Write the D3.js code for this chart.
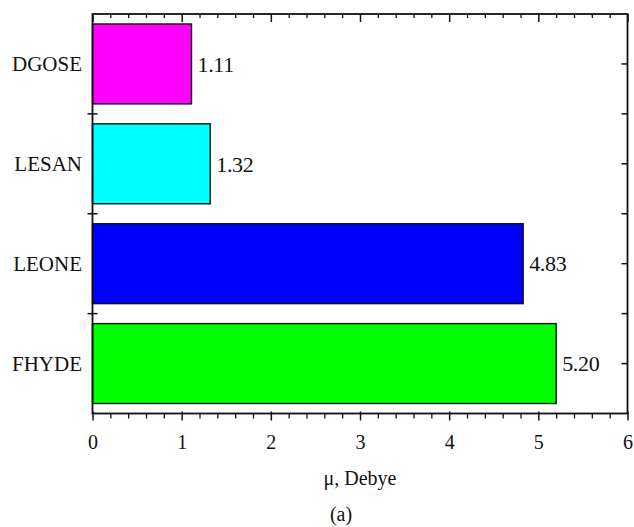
<!DOCTYPE html>
<html>
<head>
<meta charset="utf-8">
<script src="https://cdn.jsdelivr.net/npm/d3@7"></script>
<style>
  html, body { margin: 0; padding: 0; background: #fff; }
  svg { display: block; }
  text { font-family: "Liberation Serif", "Times New Roman", serif; fill: #111; }
</style>
</head>
<body>
<svg id="chart" width="634" height="527"></svg>
<script>
// Dipole moments per compound, listed top to bottom
const compounds = ["DGOSE", "LESAN", "LEONE", "FHYDE"];
const dipoles = [1.11, 1.32, 4.83, 5.20];
const barColors = ["#ff00ff", "#00ffff", "#0000ff", "#00ff00"];
const xTicks = [0, 1, 2, 3, 4, 5, 6];
const xTitle = "\u03bc, Debye";
const panelLabel = "(a)";

const svg = d3.select("#chart");
const plotLeft = 92.5, plotRight = 627.5, plotTop = 14, plotBottom = 413.5;

const x = d3.scaleLinear().domain([0, 6]).range([plotLeft, plotRight]);
const y = d3.scaleBand().domain(compounds).range([plotTop, plotBottom])
  .paddingInner(0.2).paddingOuter(0.1);

const rows = compounds.map((c, i) => ({ name: c, value: dipoles[i], color: barColors[i] }));

// Bars
svg.append("g").selectAll("rect").data(rows).join("rect")
  .attr("x", x(0))
  .attr("y", d => y(d.name))
  .attr("width", d => x(d.value) - x(0))
  .attr("height", y.bandwidth())
  .attr("fill", d => d.color)
  .attr("stroke", "#111")
  .attr("stroke-width", 1.4);

// Value labels beside each bar
svg.append("g").selectAll("text").data(rows).join("text")
  .attr("x", d => x(d.value) + 6)
  .attr("y", d => y(d.name) + y.bandwidth() / 2)
  .attr("dy", "0.35em")
  .attr("font-size", 22)
  .attr("letter-spacing", -0.3)
  .text(d => d.value.toFixed(2));

// Category labels
svg.append("g").selectAll("text").data(rows).join("text")
  .attr("x", 82)
  .attr("y", d => y(d.name) + y.bandwidth() / 2)
  .attr("dy", "0.35em")
  .attr("text-anchor", "end")
  .attr("font-size", 21)
  .text(d => d.name);

const minor = d3.range(0, 6.001, 0.2).filter(v => Math.abs(v - Math.round(v)) > 1e-6);

// Bottom axis: major ticks crossing the line, minor ticks below
const bottomAxis = svg.append("g").attr("transform", `translate(0,${plotBottom})`)
  .call(d3.axisBottom(x).tickValues(xTicks).tickFormat(d3.format("d"))
    .tickSizeInner(7).tickSizeOuter(0).tickPadding(14));
bottomAxis.select(".domain").remove();
bottomAxis.selectAll(".tick line").attr("y1", -2).attr("stroke", "#111").attr("stroke-width", 1.5);
bottomAxis.selectAll(".tick text").attr("font-size", 20).attr("fill", "#111");
svg.append("g").attr("transform", `translate(0,${plotBottom})`)
  .call(d3.axisBottom(x).tickValues(minor).tickFormat("").tickSizeInner(5).tickSizeOuter(0))
  .call(g => g.select(".domain").remove())
  .selectAll(".tick line").attr("stroke", "#111").attr("stroke-width", 1.3);

// Top axis: ticks pointing inward
svg.append("g").attr("transform", `translate(0,${plotTop})`)
  .call(d3.axisBottom(x).tickValues(xTicks).tickFormat("").tickSizeInner(8).tickSizeOuter(0))
  .call(g => g.select(".domain").remove())
  .selectAll(".tick line").attr("stroke", "#111").attr("stroke-width", 1.5);
svg.append("g").attr("transform", `translate(0,${plotTop})`)
  .call(d3.axisBottom(x).tickValues(minor).tickFormat("").tickSizeInner(4).tickSizeOuter(0))
  .call(g => g.select(".domain").remove())
  .selectAll(".tick line").attr("stroke", "#111").attr("stroke-width", 1.3);

// Category boundaries and centres for the vertical axes
const step = y.step();
const boundaries = compounds.slice(1).map(c => y(c) - step * y.paddingInner() / 2);
const centres = compounds.map(c => y(c) + y.bandwidth() / 2);

// Left axis: crossing ticks at category boundaries
svg.append("g").selectAll("line").data(boundaries).join("line")
  .attr("x1", plotLeft - 5).attr("x2", plotLeft + 5)
  .attr("y1", d => d).attr("y2", d => d)
  .attr("stroke", "#111").attr("stroke-width", 1.5);

// Right axis: inward ticks at boundaries and centres
svg.append("g").selectAll("line").data(boundaries.concat(centres)).join("line")
  .attr("x1", plotRight - 6).attr("x2", plotRight)
  .attr("y1", d => d).attr("y2", d => d)
  .attr("stroke", "#111").attr("stroke-width", 1.5);

// Frame
svg.append("rect")
  .attr("x", plotLeft).attr("y", plotTop)
  .attr("width", plotRight - plotLeft).attr("height", plotBottom - plotTop)
  .attr("fill", "none").attr("stroke", "#111").attr("stroke-width", 1.8);

// Axis title and panel label
svg.append("text")
  .attr("x", (plotLeft + plotRight) / 2).attr("y", 485)
  .attr("text-anchor", "middle").attr("font-size", 20)
  .text(xTitle);

svg.append("text")
  .attr("x", 341).attr("y", 521)
  .attr("text-anchor", "middle").attr("font-size", 20)
  .text(panelLabel);
</script>
</body>
</html>
